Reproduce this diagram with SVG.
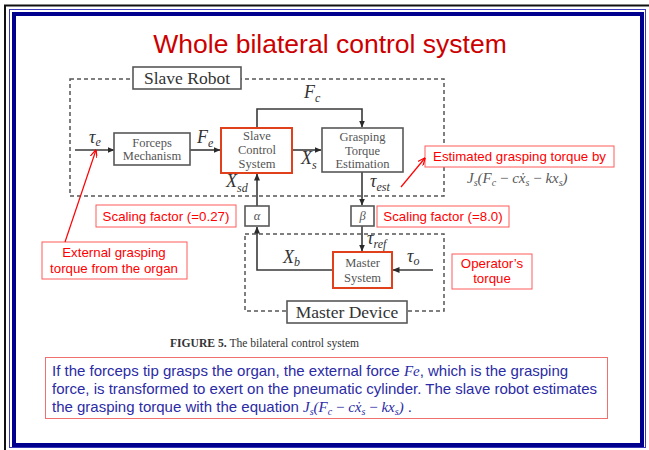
<svg xmlns="http://www.w3.org/2000/svg" width="649" height="450" viewBox="0 0 649 450">
  <style>
    .blk { fill: #ffffff; stroke: #585858; stroke-width: 1.6; }
    .blk-red { fill: #ffffff; stroke: #e0401c; stroke-width: 2; }
    .btxt { font-family: "Liberation Serif", "DejaVu Serif", serif; font-size: 12.5px; fill: #555555; text-anchor: middle; }
    .lbl { font-family: "Liberation Serif", "DejaVu Serif", serif; font-size: 17.5px; fill: #333333; text-anchor: middle; }
    .math { font-family: "Liberation Serif", "DejaVu Serif", serif; font-style: italic; font-size: 18px; fill: #333333; }
    .sub { font-size: 12px; }
    .dash { fill: none; stroke: #555555; stroke-width: 1.5; stroke-dasharray: 4 3; }
    .wire { fill: none; stroke: #3a3a3a; stroke-width: 1.6; }
    .note { fill: #ffffff; stroke: #ff5a5a; stroke-width: 1; }
    .ntxt { font-family: "Liberation Sans", Arial, sans-serif; font-size: 13.3px; fill: #ff0000; }
    .ptr { fill: none; stroke: #ff0000; stroke-width: 1.2; }
    .para { font-family: "Liberation Sans", Arial, sans-serif; font-size: 15px; fill: #2b2ba6; }
    .eq { font-family: "Liberation Serif", "DejaVu Serif", serif; font-style: italic; }
  </style>
  <defs>
    <marker id="arr" markerWidth="7" markerHeight="6" refX="6.5" refY="3" orient="auto" markerUnits="userSpaceOnUse">
      <path d="M0,0 L7,3 L0,6 Z" fill="#2a2a2a"/>
    </marker>
    <marker id="arr-red" markerWidth="8" markerHeight="7" refX="7.5" refY="3.5" orient="auto" markerUnits="userSpaceOnUse">
      <path d="M0,0 L8,3.5 L0,7" fill="none" stroke="#ff0000" stroke-width="1.2"/>
    </marker>
  </defs>

  <!-- slide background and frame -->
  <rect x="0" y="0" width="649" height="450" fill="#ffffff"/>
  <path d="M5,450 V5.5 H649" fill="none" stroke="#111111" stroke-width="2"/>
  <rect x="9.5" y="9.5" width="636" height="438" fill="none" stroke="#3a3ab8" stroke-width="1"/>
  <rect x="14" y="14" width="628" height="431" fill="none" stroke="#00008f" stroke-width="4"/>

  <!-- title -->
  <text x="330" y="53" text-anchor="middle" font-family="'Liberation Sans', Arial, sans-serif" font-size="26.5px" fill="#cc0000">Whole bilateral control system</text>

  <!-- subsystem boundaries -->
  <g id="slave-robot">
    <rect class="dash" x="70" y="79" width="374" height="117"/>
    <rect class="blk" x="133" y="67" width="108" height="22"/>
    <text class="lbl" x="187" y="84">Slave Robot</text>
  </g>
  <g id="master-device">
    <rect class="dash" x="245" y="234" width="199" height="77"/>
    <rect class="blk" x="287" y="301" width="120" height="22"/>
    <text class="lbl" x="347" y="318">Master Device</text>
  </g>

  <!-- connectors -->
  <g id="connectors">
    <path class="wire" d="M75,150 H114" marker-end="url(#arr)"/>
    <path class="wire" d="M190,150 H220" marker-end="url(#arr)"/>
    <path class="wire" d="M292,150 H321" marker-end="url(#arr)"/>
    <path class="wire" d="M257,128 V109 H362 V127" marker-end="url(#arr)"/>
    <path class="wire" d="M362,172 V205" marker-end="url(#arr)"/>
    <path class="wire" d="M362,226 V251" marker-end="url(#arr)"/>
    <path class="wire" d="M333,270 H257 V227" marker-end="url(#arr)"/>
    <path class="wire" d="M257,206 V174" marker-end="url(#arr)"/>
    <path class="wire" d="M433,270 H393" marker-end="url(#arr)"/>
  </g>

  <!-- blocks -->
  <g id="forceps-mechanism">
    <rect class="blk" x="114" y="133" width="76" height="32"/>
    <text class="btxt" x="152" y="147">Forceps</text>
    <text class="btxt" x="152" y="160">Mechanism</text>
  </g>
  <g id="slave-control-system">
    <rect class="blk-red" x="221" y="128" width="71" height="45"/>
    <text class="btxt" x="257" y="140">Slave</text>
    <text class="btxt" x="257" y="154">Control</text>
    <text class="btxt" x="257" y="168">System</text>
  </g>
  <g id="grasping-torque-estimation">
    <rect class="blk" x="322" y="128" width="81" height="44"/>
    <text class="btxt" x="362.5" y="141">Grasping</text>
    <text class="btxt" x="362.5" y="155">Torque</text>
    <text class="btxt" x="362.5" y="168">Estimation</text>
  </g>
  <g id="alpha">
    <rect class="blk" x="245" y="206" width="24" height="20"/>
    <text class="btxt" x="257" y="220" font-style="italic">α</text>
  </g>
  <g id="beta">
    <rect class="blk" x="351" y="206" width="23" height="20"/>
    <text class="btxt" x="362.5" y="220" font-style="italic">β</text>
  </g>
  <g id="master-system">
    <rect class="blk-red" x="333" y="252" width="59" height="36"/>
    <text class="btxt" x="362.5" y="267">Master</text>
    <text class="btxt" x="362.5" y="282">System</text>
  </g>

  <!-- signal labels -->
  <g id="signal-labels">
    <text class="math" x="89" y="143">τ<tspan class="sub" dy="3">e</tspan></text>
    <text class="math" x="197" y="143">F<tspan class="sub" dy="4">e</tspan></text>
    <text class="math" x="304" y="98">F<tspan class="sub" dy="4">c</tspan></text>
    <text class="math" x="301" y="164">X<tspan class="sub" dy="5">s</tspan></text>
    <text class="math" x="226" y="187">X<tspan class="sub" dy="5">sd</tspan></text>
    <text class="math" x="370" y="187" font-size="17px">τ<tspan class="sub" dy="4">est</tspan></text>
    <text class="math" x="367" y="244">τ<tspan class="sub" dy="4">ref</tspan></text>
    <text class="math" x="283" y="263">X<tspan class="sub" dy="3">b</tspan></text>
    <text class="math" x="407" y="262">τ<tspan class="sub" dy="3">o</tspan></text>
  </g>

  <!-- annotations -->
  <g id="note-estimated">
    <rect class="note" x="425" y="146" width="189" height="21"/>
    <text class="ntxt" x="519.5" y="161" text-anchor="middle">Estimated grasping torque by</text>
    <text x="467" y="183" font-family="'Liberation Serif', 'DejaVu Serif', serif" font-style="italic" font-size="15px" fill="#5a5a5a">J<tspan font-size="10px" dy="3">s</tspan><tspan dy="-3">(F</tspan><tspan font-size="10px" dy="3">c</tspan><tspan dy="-3" font-style="normal"> − </tspan>cẋ<tspan font-size="10px" dy="3">s</tspan><tspan dy="-3" font-style="normal"> − </tspan>kx<tspan font-size="10px" dy="3">s</tspan><tspan dy="-3">)</tspan></text>
    <path class="ptr" d="M401,187 L425,158" marker-end="url(#arr-red)"/>
  </g>
  <g id="note-scaling-alpha">
    <rect class="note" x="96" y="205" width="140" height="22"/>
    <text class="ntxt" x="166" y="221" text-anchor="middle">Scaling factor (=0.27)</text>
  </g>
  <g id="note-scaling-beta">
    <rect class="note" x="377" y="206" width="132" height="21"/>
    <text class="ntxt" x="443" y="221" text-anchor="middle">Scaling factor (=8.0)</text>
  </g>
  <g id="note-external">
    <rect class="note" x="42" y="242" width="145" height="37"/>
    <text class="ntxt" x="114" y="257" text-anchor="middle">External grasping</text>
    <text class="ntxt" x="114" y="273" text-anchor="middle">torque from the organ</text>
    <path class="ptr" d="M65,242 L96,150" marker-end="url(#arr-red)"/>
  </g>
  <g id="note-operator">
    <rect class="note" x="452" y="254" width="80" height="35"/>
    <text class="ntxt" x="492" y="268" text-anchor="middle">Operator’s</text>
    <text class="ntxt" x="492" y="283" text-anchor="middle">torque</text>
  </g>

  <!-- figure caption -->
  <text x="170" y="347" font-family="'Liberation Serif', 'DejaVu Serif', serif" font-size="11.6px" fill="#333333"><tspan font-weight="bold">FIGURE 5.</tspan> The bilateral control system</text>

  <!-- explanation box -->
  <g id="explanation">
    <rect x="45.5" y="357.5" width="562" height="61" fill="#ffffff" stroke="#f07070" stroke-width="1"/>
    <text class="para" x="52" y="375.5">If the forceps tip grasps the organ, the external force <tspan class="eq">Fe</tspan>, which is the grasping</text>
    <text class="para" x="52" y="393.5">force, is transformed to exert on the pneumatic cylinder. The slave robot estimates</text>
    <text class="para" x="52" y="411.5">the grasping torque with the equation <tspan class="eq">J<tspan font-size="10px" dy="3">s</tspan><tspan dy="-3">(F</tspan><tspan font-size="10px" dy="3">c</tspan><tspan dy="-3" font-style="normal"> − </tspan>cẋ<tspan font-size="10px" dy="3">s</tspan><tspan dy="-3" font-style="normal"> − </tspan>kx<tspan font-size="10px" dy="3">s</tspan><tspan dy="-3">)</tspan></tspan> .</text>
  </g>
</svg>
